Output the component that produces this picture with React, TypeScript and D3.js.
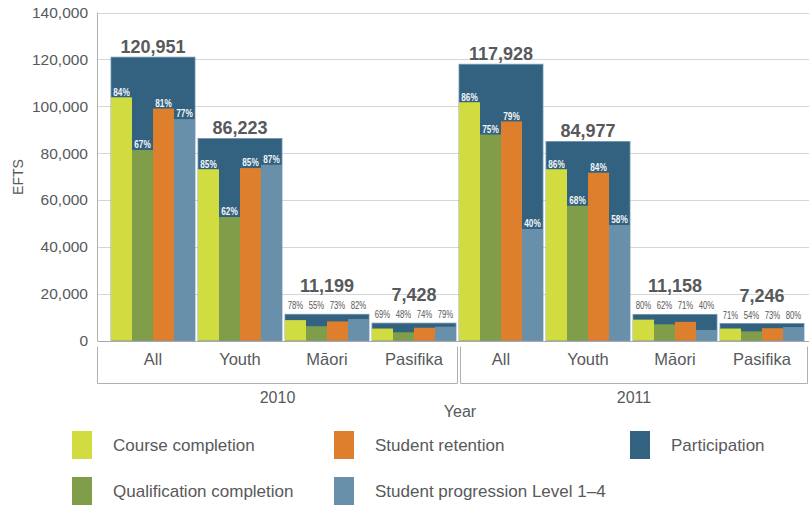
import React from "react";
import * as d3 from "d3";

const years = ["2010", "2011"];
const categories = ["All", "Youth", "Māori", "Pasifika"];
const participation = [120951, 86223, 11199, 7428, 117928, 84977, 11158, 7246];
const courseCompletion = [103800, 73100, 8700, 5100, 101700, 73100, 8900, 5100];
const qualificationCompletion = [81300, 52700, 6100, 3500, 87900, 57500, 6900, 3900];
const studentRetention = [99000, 73600, 8150, 5450, 93500, 71600, 7950, 5250];
const studentProgression = [94500, 75000, 9150, 5900, 47600, 49300, 4500, 5750];
const pctCourse = ["84%", "85%", "78%", "69%", "86%", "86%", "80%", "71%"];
const pctQual = ["67%", "62%", "55%", "48%", "75%", "68%", "62%", "54%"];
const pctRetention = ["81%", "85%", "73%", "74%", "79%", "84%", "71%", "73%"];
const pctProgression = ["77%", "87%", "82%", "79%", "40%", "58%", "40%", "80%"];
const yTicks = [0, 20000, 40000, 60000, 80000, 100000, 120000, 140000];
const seriesNames = ["Course completion", "Qualification completion", "Student retention", "Student progression Level 1–4"];
const participationName = "Participation";

const COLORS = ["#d0dc3f", "#809d49", "#dd7f2c", "#6890aa"];
const PART_COLOR = "#336180";
const TEXT = "#58595b";
const FONT = "'Liberation Sans', Arial, sans-serif";

export default function App() {
  const W = 809, H = 506;
  const groups = years.flatMap((yr) => categories.map((c) => `${yr}|${c}`));
  const x = d3.scaleBand<string>().domain(groups).range([111, 804]).paddingInner(3 / 87).paddingOuter(0);
  const bw = x.bandwidth();
  const inner = d3.scaleBand<number>().domain([0, 1, 2, 3]).range([0, bw]).padding(0);
  const y = d3.scaleLinear().domain([0, 140000]).range([340.5, 12.5]);
  const fmt = d3.format(",");
  const series = [courseCompletion, qualificationCompletion, studentRetention, studentProgression];
  const pcts = [pctCourse, pctQual, pctRetention, pctProgression];

  const axisX = 97.5;
  const boxes = years.map((yr, i) => {
    const first = x(`${yr}|${categories[0]}`)!;
    const last = x(`${yr}|${categories[categories.length - 1]}`)!;
    const left = i === 0 ? axisX : first + 1.5;
    const right = i === 0 ? last + bw + 1.5 : last + bw + 3.5;
    return { yr, left, right };
  });

  const legendItems = [
    { name: seriesNames[0], color: COLORS[0], col: 0, row: 0 },
    { name: seriesNames[2], color: COLORS[2], col: 1, row: 0 },
    { name: participationName, color: PART_COLOR, col: 2, row: 0 },
    { name: seriesNames[1], color: COLORS[1], col: 0, row: 1 },
    { name: seriesNames[3], color: COLORS[3], col: 1, row: 1 },
  ];
  const legCols = [72, 334, 630];
  const legRows = [431, 477];

  return (
    <svg width={W} height={H} style={{ position: "absolute", left: 0, top: 0, background: "#fff" }} fontFamily={FONT}>
      {yTicks.map((t) => (
        <line key={"g" + t} x1={axisX} x2={W} y1={Math.round(y(t)) + 0.5} y2={Math.round(y(t)) + 0.5} stroke={t === 0 ? "#a9a9a9" : "#d6d6d6"} strokeWidth={1} />
      ))}
      <line x1={axisX} x2={axisX} y1={y(140000)} y2={341} stroke="#b0b0b0" />
      {yTicks.map((t) => (
        <text key={"t" + t} x={88} y={y(t) + 5.5} textAnchor="end" fontSize={15.5} fill={TEXT}>{fmt(t)}</text>
      ))}
      <text transform={`translate(23,177) rotate(-90)`} textAnchor="middle" fontSize={14} fill={TEXT}>EFTS</text>

      {groups.map((g, gi) => {
        const gx = x(g)!;
        const top = y(participation[gi]);
        const small = participation[gi] < 30000;
        const pctBase = top - 5;
        const valBase = small ? pctBase - 17 : top - 4;
        return (
          <g key={g}>
            <rect x={gx} y={top} width={bw} height={y(0) - top} fill={PART_COLOR} stroke="#6f95ad" strokeWidth={0.8} />
            {series.map((s, si) => {
              const by = y(s[gi]);
              return (
                <rect key={si} x={gx + inner(si)!} y={by} width={inner.bandwidth()} height={y(0) - by} fill={COLORS[si]} />
              );
            })}
            {series.map((s, si) => {
              const cx = gx + inner(si)! + inner.bandwidth() / 2;
              if (small) {
                return (
                  <text key={"p" + si} x={cx} y={pctBase} textAnchor="middle" fontSize={10.5} fill={TEXT} textLength={15.5} lengthAdjust="spacingAndGlyphs">{pcts[si][gi]}</text>
                );
              }
              return (
                <text key={"p" + si} x={cx} y={y(s[gi]) - 1.7} textAnchor="middle" fontSize={10} fontWeight="bold" fill="#f2f5f7" textLength={16.5} lengthAdjust="spacingAndGlyphs">{pcts[si][gi]}</text>
              );
            })}
            <text x={gx + bw / 2} y={valBase} textAnchor="middle" fontSize={18} fontWeight="bold" fill={TEXT}>{fmt(participation[gi])}</text>
          </g>
        );
      })}

      {boxes.map((b) => (
        <g key={b.yr}>
          <path d={`M${b.left},346.5V383.5H${b.right}V346.5`} fill="none" stroke="#b0b0b0" strokeWidth={1} />
          <text x={(b.left + b.right) / 2} y={403} textAnchor="middle" fontSize={16} fill={TEXT}>{b.yr}</text>
        </g>
      ))}
      {groups.map((g, gi) => (
        <text key={"c" + g} x={x(g)! + bw / 2} y={365} textAnchor="middle" fontSize={16.5} fill={TEXT}>{categories[gi % categories.length]}</text>
      ))}
      <text x={460} y={417} textAnchor="middle" fontSize={16} fill={TEXT}>Year</text>

      {legendItems.map((it) => (
        <g key={it.name} transform={`translate(${legCols[it.col]},${legRows[it.row]})`}>
          <rect x={0} y={0} width={20} height={28} fill={it.color} />
          <text x={41} y={20} fontSize={17} fill={TEXT}>{it.name}</text>
        </g>
      ))}
    </svg>
  );
}
